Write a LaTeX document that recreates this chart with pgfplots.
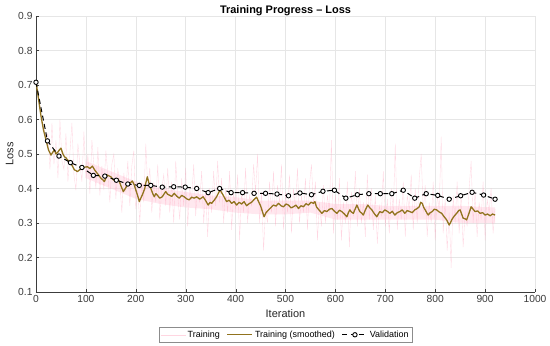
\documentclass[border=0pt]{standalone}
\usepackage{fontspec}
\setmainfont{Liberation Sans}
\usepackage{pgfplots}
\pgfplotsset{compat=1.18}
\definecolor{rawc}{RGB}{255,165,190}
\definecolor{bandc}{RGB}{255,205,220}
\definecolor{smc}{RGB}{145,115,30}
\definecolor{tickc}{RGB}{60,60,60}
\definecolor{gridc}{RGB}{230,230,230}
\begin{document}
\begin{tikzpicture}
\path[use as bounding box] (-36bp,-54bp) rectangle (514bp,292bp);
\begin{axis}[
  at={(0,0)}, anchor=south west, scale only axis,
  width=499bp, height=276bp,
  xmin=0, xmax=1000, ymin=0.1, ymax=0.9,
  xtick={0,100,200,300,400,500,600,700,800,900,1000},
  ytick={0.1,0.2,0.3,0.4,0.5,0.6,0.7,0.8,0.9},
  yticklabel style={/pgf/number format/fixed,/pgf/number format/fixed zerofill,/pgf/number format/precision=1},
  xticklabel style={/pgf/number format/1000 sep={}},
  /pgf/number format/assume math mode=true,
  scaled y ticks=false, scaled x ticks=false,
  axis lines=left,
  axis line style={tickc,-},
  tick style={tickc},
  tick align=inside,
  major tick length=3bp,
  ticklabel style={font=\fontsize{10.3}{12}\selectfont, text=tickc},
  grid=major,
  major grid style={gridc, line width=0.5pt},
  title={\textbf{Training Progress – Loss}},
  title style={font=\fontsize{11}{13}\selectfont, yshift=-9bp},
  xlabel={Iteration},
  ylabel={Loss},
  label style={font=\fontsize{11}{13}\selectfont, text=black!85},
  xlabel style={yshift=0bp},
  ylabel style={yshift=-2bp},
  legend style={at={(0.5,-0.155)}, anchor=center, legend columns=3,
    font=\fontsize{9}{11}\selectfont, draw=black!45, line width=0.5pt, inner sep=1.5pt,
    /tikz/every even column/.append style={column sep=5bp}},
  legend cell align=left,
  legend image code/.code={\draw[mark repeat=2,mark phase=2,#1] plot coordinates {(0bp,0bp) (12.5bp,0bp) (25bp,0bp)};},
]
\addplot[draw=none, fill=bandc, fill opacity=0.45, forget plot] coordinates {
(100,0.48)(150,0.45)(200,0.42)(250,0.40)(300,0.39)(350,0.38)(400,0.375)(450,0.365)(500,0.365)(550,0.365)(600,0.355)(650,0.355)(700,0.35)(750,0.35)(800,0.35)(850,0.35)(920,0.345)
(920,0.30)(850,0.30)(800,0.31)(750,0.31)(700,0.31)(650,0.31)(600,0.31)(550,0.33)(500,0.325)(450,0.325)(400,0.33)(350,0.34)(300,0.345)(250,0.355)(200,0.37)(150,0.40)(100,0.43)
} -- cycle;
\addplot[rawc, line width=0.35pt, opacity=0.45] coordinates {
(0,.710)(4,.672)(8,.640)(12,.588)(16,.575)(20,.545)(24,.560)(28,.455)(32,.590)(36,.470)
(40,.540)(44,.430)(48,.600)(52,.480)(56,.455)(60,.560)(64,.420)(68,.505)(72,.590)(76,.440)
(80,.395)(84,.530)(88,.470)(92,.420)(96,.565)(100,.430)(104,.500)(108,.385)(112,.540)(116,.470)
(120,.400)(124,.520)(128,.380)(132,.465)(136,.395)(140,.510)(144,.440)(148,.360)(152,.470)(156,.500)
(160,.370)(164,.455)(168,.420)(172,.330)(176,.445)(180,.390)(184,.480)(188,.350)(192,.465)(196,.510)
(200,.340)(204,.395)(208,.300)(212,.420)(216,.360)(220,.530)(224,.400)(228,.460)(232,.330)(236,.420)
(240,.360)(244,.470)(248,.310)(252,.400)(256,.440)(260,.350)(264,.460)(268,.330)(272,.420)(276,.300)
(280,.480)(284,.380)(288,.310)(292,.430)(296,.350)(300,.460)(304,.290)(308,.400)(312,.370)(316,.470)
(320,.320)(324,.410)(328,.360)(332,.450)(336,.300)(340,.390)(344,.260)(348,.400)(352,.330)(356,.450)
(360,.350)(364,.480)(368,.360)(372,.430)(376,.300)(380,.400)(384,.330)(388,.450)(392,.280)(396,.390)
(400,.340)(404,.440)(408,.250)(412,.390)(416,.330)(420,.460)(424,.300)(428,.380)(432,.350)(436,.470)
(440,.390)(444,.500)(448,.300)(452,.390)(456,.220)(460,.340)(464,.300)(468,.420)(472,.330)(476,.450)
(480,.290)(484,.410)(488,.360)(492,.470)(496,.280)(500,.390)(504,.330)(508,.440)(512,.270)(516,.400)
(520,.340)(524,.460)(528,.300)(532,.380)(536,.330)(540,.430)(544,.280)(548,.410)(552,.470)(556,.350)
(560,.420)(564,.250)(568,.360)(572,.290)(576,.410)(580,.300)(584,.380)(588,.330)(592,.540)(596,.270)
(600,.380)(604,.310)(608,.430)(612,.250)(616,.360)(620,.300)(624,.420)(628,.230)(632,.390)(636,.320)
(640,.450)(644,.290)(648,.400)(652,.300)(656,.360)(660,.260)(664,.440)(668,.310)(672,.400)(676,.280)
(680,.380)(684,.240)(688,.350)(692,.320)(696,.450)(700,.290)(704,.370)(708,.270)(712,.400)(716,.330)
(720,.530)(724,.280)(728,.370)(732,.310)(736,.420)(740,.260)(744,.380)(748,.340)(752,.440)(756,.280)
(760,.400)(764,.300)(768,.430)(772,.500)(776,.330)(780,.410)(784,.260)(788,.360)(792,.300)(796,.420)
(800,.250)(804,.380)(808,.340)(812,.550)(816,.270)(820,.370)(824,.220)(828,.330)(832,.170)(836,.380)
(840,.300)(844,.420)(848,.270)(852,.380)(856,.230)(860,.330)(864,.290)(868,.400)(872,.480)(876,.300)
(880,.390)(884,.260)(888,.360)(892,.310)(896,.420)(900,.250)(904,.370)(908,.330)(912,.400)(916,.270)
(920,.340)
};
\addlegendentry{Training}
\addplot[smc, line width=1.3pt, line join=round] coordinates {
(0,.710)(5,.660)(10,.610)(15,.570)(20,.541)(25,.512)(30,.497)(34,.506)(37,.512)(40,.500)
(43,.504)(47,.512)(50,.517)(54,.500)(57,.492)(60,.489)(63,.483)(67,.478)(70,.473)(74,.462)
(77,.454)(80,.452)(83,.449)(88,.455)(93,.458)(98,.462)(103,.463)(108,.458)(113,.465)(117,.455)
(120,.449)(125,.440)(130,.430)(134,.425)(137,.420)(140,.430)(143,.439)(147,.436)(150,.434)(155,.425)
(160,.422)(164,.428)(167,.420)(171,.405)(175,.391)(179,.400)(183,.410)(188,.415)(193,.422)(197,.410)
(200,.396)(204,.378)(207,.362)(210,.372)(213,.381)(218,.400)(220,.415)(223,.434)(226,.418)(230,.401)
(234,.385)(237,.376)(240,.385)(243,.381)(248,.372)(253,.376)(257,.385)(260,.391)(264,.383)(267,.381)
(272,.377)(277,.386)(282,.378)(287,.372)(292,.380)(297,.376)(302,.370)(307,.367)(312,.375)(317,.372)
(322,.376)(328,.369)(335,.376)(340,.365)(345,.352)(349,.360)(352,.357)(357,.366)(362,.376)(366,.388)
(369,.396)(372,.388)(375,.381)(379,.370)(382,.362)(387,.366)(392,.357)(397,.362)(402,.352)(407,.360)
(412,.355)(417,.362)(422,.350)(427,.356)(432,.360)(437,.368)(442,.375)(446,.362)(450,.350)(454,.332)
(457,.318)(461,.330)(466,.338)(471,.345)(476,.352)(481,.349)(486,.357)(491,.350)(496,.347)(501,.355)
(506,.352)(511,.344)(516,.347)(521,.352)(526,.342)(531,.350)(536,.347)(541,.356)(546,.352)(551,.360)
(556,.357)(559,.362)(562,.347)(567,.338)(573,.328)(578,.336)(583,.333)(588,.340)(593,.342)(598,.334)
(603,.328)(608,.337)(613,.333)(618,.326)(623,.318)(626,.330)(629,.338)(632,.332)(636,.328)(640,.342)
(643,.352)(646,.342)(649,.333)(653,.328)(656,.323)(660,.338)(665,.352)(669,.344)(673,.338)(678,.327)
(683,.318)(686,.326)(689,.333)(694,.330)(699,.338)(704,.334)(709,.328)(714,.334)(719,.323)(724,.330)
(729,.333)(734,.338)(739,.328)(744,.336)(749,.333)(754,.330)(759,.338)(764,.342)(768,.347)(771,.360)
(774,.357)(777,.345)(780,.338)(783,.330)(786,.323)(790,.330)(794,.333)(798,.340)(803,.338)(808,.332)
(813,.328)(818,.318)(823,.309)(826,.300)(828,.294)(831,.302)(833,.309)(838,.320)(843,.328)(847,.336)
(850,.338)(853,.326)(856,.314)(860,.312)(863,.309)(867,.325)(872,.347)(876,.340)(880,.333)(885,.335)
(890,.328)(895,.330)(900,.323)(905,.326)(910,.321)(915,.326)(920,.323)
};
\addlegendentry{Training (smoothed)}
\addplot[black, line width=1pt, dash pattern=on 5bp off 3.5bp, mark=*, mark size=2.2bp,
  mark options={solid, fill=white, draw=black, line width=0.9pt}] coordinates {
(0,0.708)(23,0.538)(46,0.494)(69,0.475)(92,0.461)(115,0.438)(138,0.436)(161,0.424)(184,0.413)(207,0.409)
(230,0.409)(253,0.404)(276,0.405)(299,0.404)(322,0.400)(345,0.388)(368,0.400)(391,0.388)(414,0.388)(437,0.386)
(460,0.386)(483,0.384)(506,0.379)(529,0.387)(552,0.382)(575,0.392)(598,0.395)(621,0.372)(644,0.382)(667,0.385)
(690,0.385)(713,0.385)(736,0.395)(759,0.372)(782,0.385)(805,0.380)(828,0.369)(851,0.379)(874,0.389)(897,0.381)
(920,0.369)
};
\addlegendentry{Validation}
\end{axis}
\end{tikzpicture}
\end{document}
